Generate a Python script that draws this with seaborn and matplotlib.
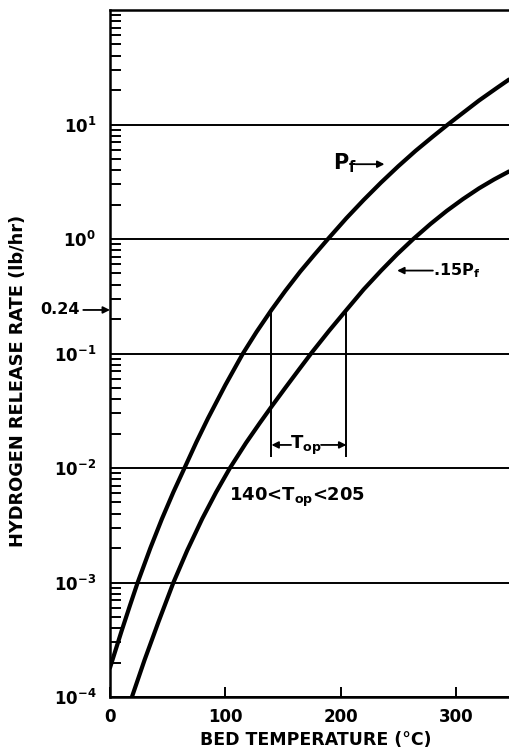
import numpy as np
import pandas as pd
import matplotlib
matplotlib.use("Agg")
import matplotlib.pyplot as plt
import seaborn as sns

# Bed temperature (deg C) and hydrogen release rate (lb/hr) at full power P_f
temp_pf = [0, 10, 17, 24, 35, 45, 55, 65, 75, 85, 100, 115, 127, 140, 152, 165, 177, 189,
           205, 220, 235, 250, 265, 280, 293, 305, 320, 335, 346]
rate_pf = [1.80e-4, 3.76e-4, 6.17e-4, 1.0e-3, 2.0e-3, 3.59e-3, 6.17e-3, 1.02e-2, 1.69e-2,
           2.72e-2, 5.30e-2, 9.9e-2, 0.154, 0.24, 0.352, 0.52, 0.724, 1.0,
           1.52, 2.195, 3.11, 4.32, 5.89, 7.85, 10.0, 12.4, 16.2, 20.7, 24.7]

# Same quantities at 0.15 P_f
temp_015 = [19, 30, 42, 55, 67, 80, 92, 104, 118, 130, 140, 152, 163, 175, 190, 205,
            220, 235, 249, 263, 278, 292, 306, 320, 333, 346]
rate_015 = [1.0e-4, 2.11e-4, 4.52e-4, 1.0e-3, 1.91e-3, 3.61e-3, 6.14e-3, 1.0e-2, 1.66e-2,
            2.48e-2, 3.43e-2, 5.01e-2, 7.05e-2, 0.102, 0.158, 0.24,
            0.363, 0.528, 0.736, 1.0, 1.355, 1.76, 2.23, 2.77, 3.31, 3.89]

# Operating window
t_low, t_high = 140, 205
rate_target = 0.24

x_ticks = [0, 100, 200, 300]
y_decades = [1e-4, 1e-3, 1e-2, 1e-1, 1e0, 1e1, 1e2]
y_labels = ["$10^{-4}$", "$10^{-3}$", "$10^{-2}$", "$10^{-1}$", "$10^{0}$", "$10^{1}$", ""]

sns.set_style("white")
plt.rcParams["font.family"] = ["DejaVu Sans"]
plt.rcParams["mathtext.default"] = "regular"
for key in ["text.color", "axes.labelcolor", "xtick.color", "ytick.color", "axes.edgecolor"]:
    plt.rcParams[key] = "black"

df_pf = pd.DataFrame({"temp": temp_pf, "rate": rate_pf})
df_015 = pd.DataFrame({"temp": temp_015, "rate": rate_015})

fig = plt.figure(figsize=(5.09, 7.53), dpi=100)
ax = fig.add_axes([110 / 509, 56 / 753, 399 / 509, 687 / 753])
ax.set_yscale("log")
ax.set_xlim(0, 346)
ax.set_ylim(1e-4, 1e2)

# decade grid lines
for d in y_decades:
    ax.axhline(d, color="black", lw=1.4, zorder=1)

sns.lineplot(data=df_pf, x="temp", y="rate", ax=ax, color="black", lw=3.0,
             estimator=None, sort=False, zorder=3)
sns.lineplot(data=df_015, x="temp", y="rate", ax=ax, color="black", lw=3.0,
             estimator=None, sort=False, zorder=3)
for line in ax.lines:
    line.set_solid_joinstyle("round")

for side in ["left", "bottom", "top"]:
    ax.spines[side].set_visible(True)
    ax.spines[side].set_color("black")
    ax.spines[side].set_linewidth(1.8)
ax.spines["right"].set_visible(False)

ax.set_xticks(x_ticks)
ax.set_xticklabels([str(t) for t in x_ticks])
ax.set_yticks(y_decades)
ax.set_yticklabels(y_labels)
ax.yaxis.set_minor_locator(matplotlib.ticker.LogLocator(base=10, subs=np.arange(2, 10), numticks=20))
ax.yaxis.set_minor_formatter(matplotlib.ticker.NullFormatter())
ax.tick_params(axis="y", which="major", direction="in", length=0, pad=10, labelsize=12)
ax.tick_params(axis="y", which="minor", direction="in", length=8, width=1.4, left=True)
ax.tick_params(axis="x", which="major", direction="in", length=7, width=1.4, bottom=True,
               pad=8, labelsize=12)
for lab in ax.get_xticklabels() + ax.get_yticklabels():
    lab.set_fontweight("bold")

ax.set_xlabel("")
ax.set_ylabel("")
fig.text(316 / 509, 1 - 740 / 753, "BED TEMPERATURE (°C)", ha="center", va="center",
         fontsize=12.5, fontweight="bold")
fig.text(18 / 509, 1 - 381 / 753, "HYDROGEN RELEASE RATE (lb/hr)", ha="center", va="center",
         rotation=90, fontsize=12.8, fontweight="bold")

# operating window markers
ax.vlines([t_low, t_high], 0.0125, rate_target, color="black", lw=1.4, zorder=2)
arrow = dict(arrowstyle="-|>", color="black", lw=1.3, mutation_scale=10, shrinkA=0, shrinkB=0)
ax.annotate("", xy=(t_low, 0.0159), xytext=(157, 0.0159), arrowprops=arrow)
ax.annotate("", xy=(t_high, 0.0159), xytext=(183, 0.0159), arrowprops=arrow)
ax.text(170, 0.0159, "$T_{op}$", ha="center", va="center", fontsize=13, fontweight="bold")
ax.text(162, 0.0055, f"{t_low}<$T_{{op}}$<{t_high}", ha="center", va="center",
        fontsize=13, fontweight="bold")

# curve labels
ax.text(193, 4.6, "$P_f$", ha="left", va="center", fontsize=15, fontweight="bold")
ax.annotate("", xy=(238, 4.5), xytext=(213, 4.5), arrowprops=arrow)
ax.annotate("", xy=(249, 0.53), xytext=(280, 0.53), arrowprops=arrow)
ax.text(280, 0.53, ".15$P_f$", ha="left", va="center", fontsize=11.5, fontweight="bold")

# 0.24 lb/hr marker on the rate axis
ax.annotate("0.24", xy=(0, rate_target), xycoords=("axes fraction", "data"),
            xytext=(-30, 0), textcoords="offset pixels", ha="right", va="center",
            fontsize=11.5, fontweight="bold", arrowprops=arrow, annotation_clip=False)

fig.savefig("out.png", dpi=100)
